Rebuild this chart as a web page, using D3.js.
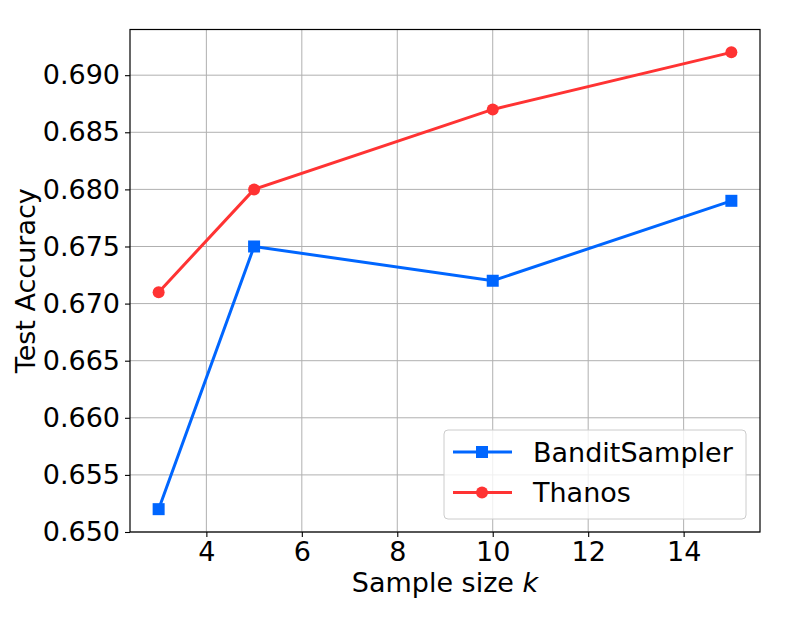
<!DOCTYPE html>
<html>
<head>
<meta charset="utf-8">
<script src="https://d3js.org/d3.v7.min.js"></script>
<style>
body { margin: 0; background: #fff; }
text { font-family: "DejaVu Sans", sans-serif; fill: #000; }
.grid line { stroke: #b0b0b0; stroke-width: 1; }
.line { fill: none; stroke-width: 3; }
</style>
</head>
<body>
<div id="chart"></div>
<script>
// data
const sampleSizes = [3, 5, 10, 15];
const banditSampler = [0.652, 0.675, 0.672, 0.679];
const thanos = [0.671, 0.680, 0.687, 0.692];
const xTicks = [4, 6, 8, 10, 12, 14];
const yTicks = [0.650, 0.655, 0.660, 0.665, 0.670, 0.675, 0.680, 0.685, 0.690];

const W = 789, H = 631;
const margin = {top: 29.5, right: 29, bottom: 99, left: 130};
const width = W - margin.left - margin.right;
const height = H - margin.top - margin.bottom;
const fs = 27;

const series = [
  {name: "BanditSampler", values: banditSampler, color: "#0066ff", marker: "square"},
  {name: "Thanos", values: thanos, color: "#ff3333", marker: "circle"}
];

const svg = d3.select("#chart").append("svg")
  .attr("width", W).attr("height", H);

const g = svg.append("g")
  .attr("transform", "translate(" + margin.left + "," + margin.top + ")");

const x = d3.scaleLinear().domain([2.4, 15.6]).range([0, width]);
const y = d3.scaleLinear().domain([0.650, 0.694]).range([height, 0]);

// grid
g.append("g").attr("class", "grid")
  .selectAll("line.gx").data(xTicks).enter().append("line")
  .attr("x1", d => x(d)).attr("x2", d => x(d))
  .attr("y1", 0).attr("y2", height);
g.append("g").attr("class", "grid")
  .selectAll("line.gy").data(yTicks).enter().append("line")
  .attr("x1", 0).attr("x2", width)
  .attr("y1", d => y(d)).attr("y2", d => y(d));

// axes
const xAxis = g.append("g")
  .attr("transform", "translate(0," + height + ")")
  .call(d3.axisBottom(x).tickValues(xTicks).tickSize(5).tickPadding(5).tickFormat(d3.format("d")));
const yAxis = g.append("g")
  .call(d3.axisLeft(y).tickValues(yTicks).tickSize(5).tickPadding(5).tickFormat(d3.format(".3f")));

[xAxis, yAxis].forEach(a => {
  a.select(".domain").remove();
  a.selectAll(".tick line").attr("stroke", "#000").attr("stroke-width", 1.1);
  a.selectAll(".tick text").style("font-size", fs + "px").style("font-family", "DejaVu Sans");
});

// lines + markers
const line = d3.line()
  .x((d, i) => x(sampleSizes[i]))
  .y(d => y(d));

series.forEach(s => {
  g.append("path")
    .datum(s.values)
    .attr("class", "line")
    .attr("stroke", s.color)
    .attr("d", line);
  const m = g.selectAll(".m-" + s.marker).data(s.values).enter();
  if (s.marker === "square") {
    m.append("rect")
      .attr("x", (d, i) => x(sampleSizes[i]) - 6)
      .attr("y", d => y(d) - 6)
      .attr("width", 12).attr("height", 12)
      .attr("fill", s.color);
  } else {
    m.append("circle")
      .attr("cx", (d, i) => x(sampleSizes[i]))
      .attr("cy", d => y(d))
      .attr("r", 6)
      .attr("fill", s.color);
  }
});

// frame
g.append("rect")
  .attr("width", width).attr("height", height)
  .attr("fill", "none").attr("stroke", "#000").attr("stroke-width", 1.2);

// legend
const leg = g.append("g").attr("transform", "translate(" + (444 - margin.left) + "," + (430 - margin.top) + ")");
leg.append("rect")
  .attr("width", 302).attr("height", 89).attr("rx", 4)
  .attr("fill", "#fff").attr("fill-opacity", 0.8)
  .attr("stroke", "#cccccc").attr("stroke-width", 1);
series.forEach((s, i) => {
  const row = leg.append("g").attr("transform", "translate(0," + (22 + i * 40.5) + ")");
  row.append("line")
    .attr("x1", 9).attr("x2", 68).attr("y1", 0).attr("y2", 0)
    .attr("stroke", s.color).attr("stroke-width", 3);
  if (s.marker === "square") {
    row.append("rect").attr("x", 32).attr("y", -6).attr("width", 12).attr("height", 12).attr("fill", s.color);
  } else {
    row.append("circle").attr("cx", 38).attr("cy", 0).attr("r", 6).attr("fill", s.color);
  }
  row.append("text")
    .attr("x", 89).attr("y", 0).attr("dy", "0.36em")
    .style("font-size", fs + "px")
    .text(s.name);
});

// axis labels
const xl = svg.append("text")
  .attr("x", margin.left + width / 2).attr("y", 592)
  .attr("text-anchor", "middle")
  .style("font-size", fs + "px");
xl.append("tspan").text("Sample size ");
xl.append("tspan").style("font-style", "italic").text("k");

svg.append("text")
  .attr("transform", "translate(35," + (margin.top + height / 2) + ") rotate(-90)")
  .attr("text-anchor", "middle")
  .style("font-size", fs + "px")
  .text("Test Accuracy");
</script>
</body>
</html>
